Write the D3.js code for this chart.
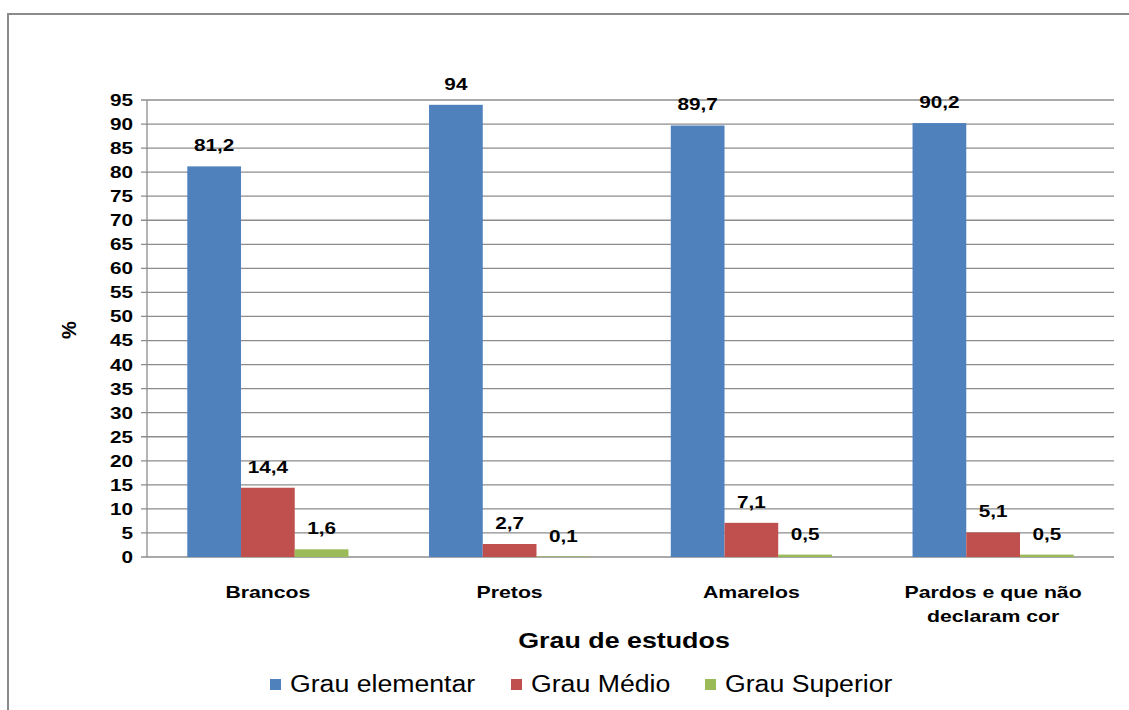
<!DOCTYPE html>
<html>
<head>
<meta charset="utf-8">
<script src="https://cdn.jsdelivr.net/npm/d3@7"></script>
<style>
body{margin:0;background:#fff}
text{font-family:"Liberation Sans",Arial,sans-serif;fill:#000}
</style>
</head>
<body>
<svg></svg>
<script>
var screen = {width:1129,height:710}
var margins = {top:100,right:15,left:147,bottom:153}

var categories = ["Brancos","Pretos","Amarelos","Pardos e que não declaram cor"]
var catLines = [["Brancos"],["Pretos"],["Amarelos"],["Pardos e que não","declaram cor"]]
var seriesNames = ["Grau elementar","Grau Médio","Grau Superior"]
var elementar = [81.2,94,89.7,90.2]
var medio = [14.4,2.7,7.1,5.1]
var superior = [1.6,0.1,0.5,0.5]
var labels = [["81,2","94","89,7","90,2"],["14,4","2,7","7,1","5,1"],["1,6","0,1","0,5","0,5"]]
var yTicks = d3.range(0,96,5)
var colors = ["#4F81BD","#C0504D","#9BBB59"]

// the original text is drawn wider than it is tall, so stretch it sideways
var stretch = function(sel, sx)
{
    sel.each(function()
    {
        var t = d3.select(this)
        var x = +t.attr("x") || 0
        var y = +t.attr("y") || 0
        var old = t.attr("transform") || ""
        t.attr("x",0).attr("y",0)
         .attr("transform",old+" translate("+x+","+y+") scale("+sx+",1)")
        t.selectAll("tspan").attr("x",0)
    })
}

var svg = d3.select("svg")
            .attr("width",screen.width)
            .attr("height",screen.height)

// outer chart border
svg.append("rect")
   .attr("x",8).attr("y",14)
   .attr("width",1140).attr("height",720)
   .attr("fill","none")
   .attr("stroke","#8a8a8a")
   .attr("stroke-width",2)

var width = screen.width - margins.left - margins.right
var height = screen.height - margins.top - margins.bottom

var g = svg.append("g")
           .attr("transform","translate("+margins.left+","+margins.top+")")

var xScale = d3.scaleBand()
               .domain(categories)
               .range([0,width])
               .paddingInner(1/3)
               .paddingOuter(1/6)
var xSub = d3.scaleBand()
             .domain([0,1,2])
             .range([0,xScale.bandwidth()])
var yScale = d3.scaleLinear()
               .domain([0,95])
               .range([height,0])

// grid lines
g.append("g")
 .selectAll("line")
 .data(yTicks)
 .enter()
 .append("line")
 .attr("x1",-6)
 .attr("x2",width)
 .attr("y1",function(d){return yScale(d)})
 .attr("y2",function(d){return yScale(d)})
 .attr("stroke","#8c8c8c")
 .attr("stroke-width",1.3)

g.append("line")
 .attr("x1",0).attr("x2",0)
 .attr("y1",0).attr("y2",height)
 .attr("stroke","#8c8c8c")
 .attr("stroke-width",1.3)

var yAxis = d3.axisLeft(yScale).tickValues(yTicks).tickSize(0).tickPadding(14)
var tickText = g.append("g")
 .call(yAxis)
 .call(function(a){a.select(".domain").remove()})
 .selectAll("text")
 .style("font-size","17px")
 .style("font-weight","bold")
 .attr("fill","#000")
stretch(tickText,1.22)

var allSeries = [elementar,medio,superior]
allSeries.forEach(function(values,si)
{
    var grp = g.append("g")
    grp.selectAll("rect")
       .data(values)
       .enter()
       .append("rect")
       .attr("x",function(v,i){return xScale(categories[i])+xSub(si)})
       .attr("width",xSub.bandwidth())
       .attr("y",function(v){return yScale(v)})
       .attr("height",function(v){return height-yScale(v)})
       .attr("fill",colors[si])
    var lab = grp.selectAll("text")
       .data(values)
       .enter()
       .append("text")
       .attr("x",function(v,i){return xScale(categories[i])+xSub(si)+xSub.bandwidth()/2})
       .attr("y",function(v){return yScale(v)-15})
       .attr("text-anchor","middle")
       .style("font-size","17px")
       .style("font-weight","bold")
       .text(function(v,i){return labels[si][i]})
    stretch(lab,1.22)
})

// category labels
var cat = g.append("g")
var catText = cat.selectAll("text")
   .data(catLines)
   .enter()
   .append("text")
   .attr("text-anchor","middle")
   .attr("x",function(d,i){return xScale(categories[i])+xScale.bandwidth()/2})
   .attr("y",height+41)
   .style("font-size","17px")
   .style("font-weight","bold")
catText.selectAll("tspan")
   .data(function(d){return d})
   .enter()
   .append("tspan")
   .attr("x",0)
   .attr("dy",function(d,i){return i==0?0:24})
   .text(function(d){return d})
stretch(catText,1.25)

var title = svg.append("text")
   .attr("x",624)
   .attr("y",648)
   .attr("text-anchor","middle")
   .style("font-size","22px")
   .style("font-weight","bold")
   .text("Grau de estudos")
stretch(title,1.22)

svg.append("text")
   .attr("transform","translate(76,330) rotate(-90)")
   .attr("text-anchor","middle")
   .style("font-size","20px")
   .style("font-weight","bold")
   .text("%")

// legend
var legendX = [270,511,705]
var leg = svg.append("g")
             .selectAll("g")
             .data(seriesNames)
             .enter()
             .append("g")
             .attr("transform",function(d,i){return "translate("+legendX[i]+",679)"})
leg.append("rect")
   .attr("width",11).attr("height",11)
   .attr("fill",function(d,i){return colors[i]})
var legText = leg.append("text")
   .attr("x",20)
   .attr("y",13)
   .style("font-size","23px")
   .text(function(d){return d})
stretch(legText,1.16)
</script>
</body>
</html>
